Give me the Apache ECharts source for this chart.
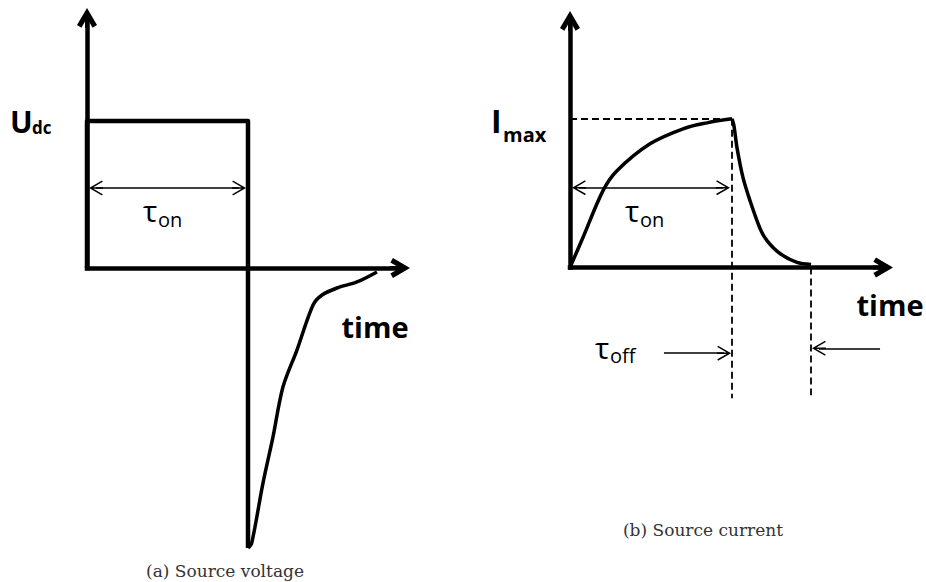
<!DOCTYPE html>
<html>
<head>
<meta charset="utf-8">
<title>Source voltage / Source current</title>
<script src="https://cdn.jsdelivr.net/npm/echarts@6/dist/echarts.min.js"></script>
<style>
html,body{margin:0;padding:0;background:#fff;}
#main{width:926px;height:582px;}
</style>
</head>
<body>
<div id="main"></div>
<script>
// (a) source voltage: x in units of tau_on, y in units of Udc
var voltPulse = [[0, 0], [0, 1], [1, 1], [1, -1.905]];
var voltTail = [[1, -1.905], [1.023, -1.871], [1.093, -1.463], [1.155, -1.15], [1.217, -0.81], [1.304, -0.558],
	[1.404, -0.252], [1.46, -0.184], [1.553, -0.136], [1.677, -0.095], [1.801, -0.027]];

// (b) source current: y in units of Imax
var curRise = [[0, 0], [0.08, 0.201], [0.204, 0.517], [0.29, 0.651], [0.494, 0.832], [0.698, 0.933], [0.846, 0.973], [1, 1]];
var curFall = [[1, 1], [1.012, 0.953], [1.031, 0.805], [1.068, 0.604], [1.111, 0.45], [1.173, 0.262], [1.216, 0.181],
	[1.296, 0.094], [1.401, 0.034], [1.488, 0.02]];

// axes (start, arrow end)
var axisAY = [[0, 0], [0, 1.70]];
var axisAX = [[0, 0], [1.944, 0]];
var axisBY = [[0, 0], [0, 1.658]];
var axisBX = [[0, 0], [1.932, 0]];

// dimension arrows and dashed helper lines
var tonArrowA = [[0.056, 0.544], [0.944, 0.544]];
var tonArrowB = [[0.056, 0.537], [0.944, 0.537]];
var toffArrowIn = [[0.58, -0.577], [0.951, -0.577]];
var toffArrowBack = [[1.914, -0.544], [1.537, -0.544]];
var imaxLine = [[0, 1], [1, 1]];
var tonDrop = [[1, 1], [1, -0.88]];
var toffDrop = [[1.488, 0], [1.488, -0.86]];

// chevron heads (pointing up, with a short shaft so the line meets the tip)
var BIG_ARROW = 'path://M11,0 L21,17 L16.6,19.6 L11,10 L5.4,19.6 L1,17 Z M9,3 L13,3 L13,20 L9,20 Z';
var THIN_ARROW = 'path://M8,0 L15.5,13 L14.2,13.75 L8,3 L1.8,13.75 L0.5,13 Z M7.25,1.5 L8.75,1.5 L8.75,14 L7.25,14 Z';

var axisStyle = {color: '#000', width: 4.5, type: 'solid', cap: 'square'};
var thinStyle = {color: '#000', width: 1.5, type: 'solid'};
var dashStyle = {color: '#000', width: 1.8, type: [7, 4]};

// one markLine item: p = [[x1,y1],[x2,y2]]
function seg(p, style, s1, s2, size) {
	return [
		{coord: p[0], symbol: s1, symbolSize: size, lineStyle: style},
		{coord: p[1], symbol: s2, symbolSize: size, lineStyle: style}
	];
}

function marks(list) {
	return {
		silent: true,
		animation: false,
		label: {show: false},
		emphasis: {disabled: true},
		symbol: 'none',
		data: list
	};
}

function curve(data, xi, smooth, width, ml) {
	var s = {
		type: 'line',
		xAxisIndex: xi,
		yAxisIndex: xi,
		data: data,
		showSymbol: false,
		symbol: 'none',
		smooth: smooth,
		clip: false,
		silent: true,
		animation: false,
		lineStyle: {color: '#000', width: width, join: 'round'}
	};
	if (ml) s.markLine = ml;
	return s;
}

function txt(x, y, str, font, align, color) {
	return {
		type: 'text',
		x: x,
		y: y,
		silent: true,
		style: {
			text: str,
			font: font,
			fill: color || '#000',
			align: align || 'left',
			textAlign: align || 'left',
			verticalAlign: 'middle',
			textVerticalAlign: 'middle'
		}
	};
}

var chart = echarts.init(document.getElementById('main'), null, {renderer: 'svg'});

var option = {
	backgroundColor: '#fff',
	animation: false,
	grid: [
		{left: 87, top: 268 - 1.8 * 147, width: 2.1 * 161, height: 3.75 * 147},
		{left: 570, top: 267 - 1.8 * 149, width: 2.1 * 162, height: 2.8 * 149}
	],
	xAxis: [
		{type: 'value', gridIndex: 0, min: 0, max: 2.1, show: false},
		{type: 'value', gridIndex: 1, min: 0, max: 2.1, show: false}
	],
	yAxis: [
		{type: 'value', gridIndex: 0, min: -1.95, max: 1.8, show: false},
		{type: 'value', gridIndex: 1, min: -1, max: 1.8, show: false}
	],
	series: [
		curve(voltPulse, 0, false, 4.5, marks([
			seg(axisAY, axisStyle, 'none', BIG_ARROW, [20, 20]),
			seg(axisAX, axisStyle, 'none', BIG_ARROW, [20, 20]),
			seg(tonArrowA, thinStyle, THIN_ARROW, THIN_ARROW, [15, 14])
		])),
		curve(voltTail, 0, 0.3, 3.5),
		curve(curRise, 1, 0.35, 3.5, marks([
			seg(axisBY, axisStyle, 'none', BIG_ARROW, [20, 20]),
			seg(axisBX, axisStyle, 'none', BIG_ARROW, [20, 20]),
			seg(tonArrowB, thinStyle, THIN_ARROW, THIN_ARROW, [15, 14]),
			seg(toffArrowIn, thinStyle, 'none', THIN_ARROW, [15, 14]),
			seg(toffArrowBack, thinStyle, 'none', THIN_ARROW, [15, 14]),
			seg(imaxLine, dashStyle, 'none', 'none', 1),
			seg(tonDrop, dashStyle, 'none', 'none', 1),
			seg(toffDrop, dashStyle, 'none', 'none', 1)
		])),
		curve(curFall, 1, 0.3, 3.5)
	],
	graphic: {
		elements: [
			txt(10, 121, 'U', 'bold 30px "Open Sans"'),
			txt(32, 127, 'dc', 'bold 17px "Open Sans"'),
			txt(150, 210, 'τ', '30px "Open Sans"', 'center'),
			txt(158, 219, 'on', '20px "Open Sans"'),
			txt(375, 326, 'time', 'bold 29px "Open Sans"', 'center'),
			txt(491, 120, 'I', 'bold 32px "Open Sans"'),
			txt(503, 134, 'max', 'bold 20px "Open Sans"'),
			txt(632, 210, 'τ', '30px "Open Sans"', 'center'),
			txt(640, 219, 'on', '20px "Open Sans"'),
			txt(602, 347, 'τ', '30px "Open Sans"', 'center'),
			txt(610, 355, 'off', '20px "Open Sans"'),
			txt(890, 304, 'time', 'bold 29px "Open Sans"', 'center'),
			txt(225, 571, '(a) Source voltage', '17px "DejaVu Serif"', 'center', '#333'),
			txt(703, 530, '(b) Source current', '17px "DejaVu Serif"', 'center', '#333')
		]
	}
};

chart.setOption(option);
</script>
</body>
</html>
